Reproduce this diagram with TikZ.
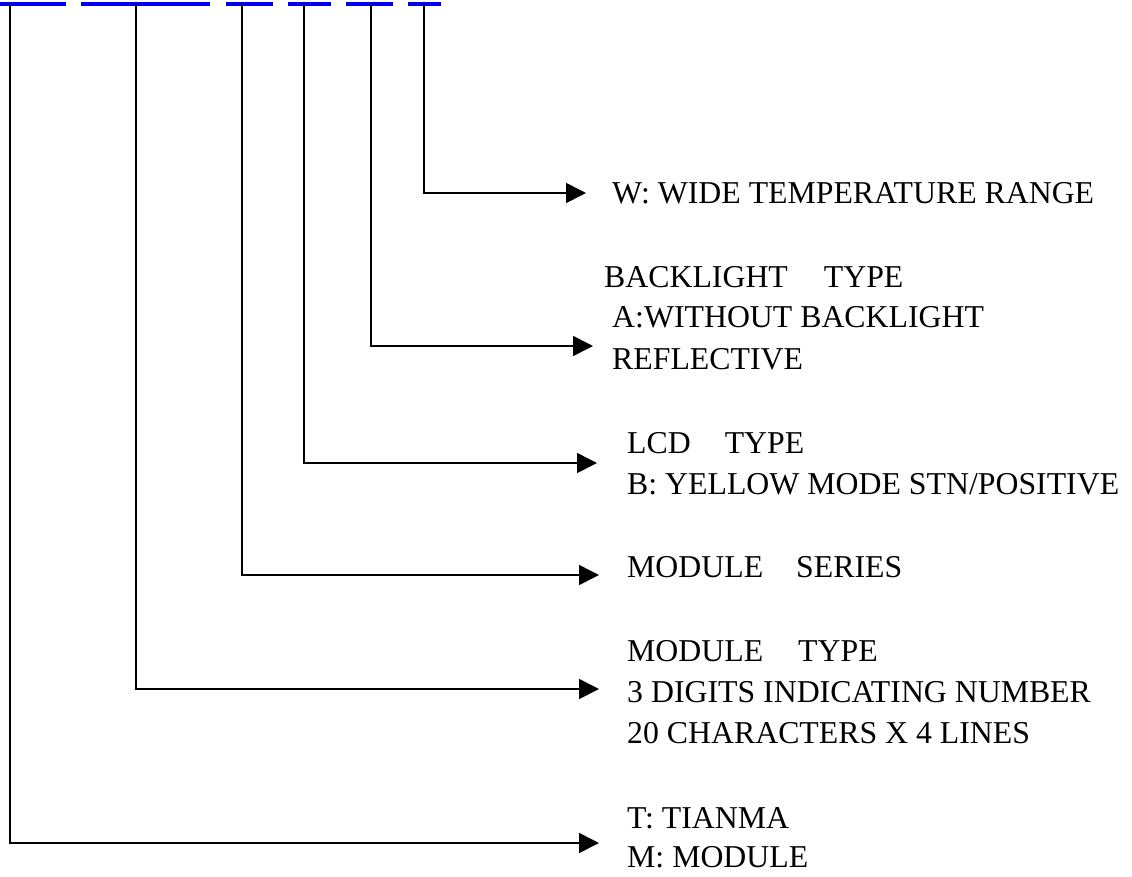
\documentclass[tikz,border=0pt]{standalone}
\usepackage{fontspec}
\setmainfont{Liberation Serif}
\usetikzlibrary{arrows.meta}
\begin{document}
\begin{tikzpicture}[x=1pt,y=-1pt,
  bar/.style={fill={rgb,255:red,0;green,0;blue,240}},
  lead/.style={line width=1.6pt,-{Triangle[length=20pt,width=20pt]}},
  lbl/.style={anchor=base west,inner sep=0pt,font=\fontsize{31.8}{41}\selectfont}]
\useasboundingbox (0,0) rectangle (1132,876);
% blue bars
\fill[bar] (0,2) rectangle (66,6);
\fill[bar] (81,2) rectangle (210,6);
\fill[bar] (226,2) rectangle (273,6);
\fill[bar] (288,2) rectangle (331,6);
\fill[bar] (346,2) rectangle (393,6);
\fill[bar] (408,2) rectangle (441,6);
% start points
\coordinate (s1) at (10,4);
\coordinate (s2) at (136,4);
\coordinate (s3) at (242,4);
\coordinate (s4) at (304,4);
\coordinate (s5) at (371,4);
\coordinate (s6) at (424,4);
% arrow tips
\coordinate (t6) at (586,193);
\coordinate (t5) at (593,346);
\coordinate (t4) at (597,463);
\coordinate (t3) at (599,575);
\coordinate (t2) at (599,689);
\coordinate (t1) at (599,843);
% connectors
\draw[lead] (s6) |- (t6);
\draw[lead] (s5) |- (t5);
\draw[lead] (s4) |- (t4);
\draw[lead] (s3) |- (t3);
\draw[lead] (s2) |- (t2);
\draw[lead] (s1) |- (t1);
% labels
\node[lbl] (w) at (612,203) {W: WIDE TEMPERATURE RANGE};
\node[lbl] (b1) at (604,287) {BACKLIGHT\hspace{36pt}TYPE};
\node[lbl] (b2) at (612,327) {A:WITHOUT BACKLIGHT};
\node[lbl] (b3) at (612,369) {REFLECTIVE};
\node[lbl] (l1) at (627,453) {LCD\hspace{34pt}TYPE};
\node[lbl] (l2) at (627,494) {B: YELLOW MODE STN/POSITIVE};
\node[lbl] (m1) at (627,577) {MODULE\hspace{33pt}SERIES};
\node[lbl] (mt1) at (627,661) {MODULE\hspace{35pt}TYPE};
\node[lbl] (mt2) at (627,702) {3 DIGITS INDICATING NUMBER};
\node[lbl] (mt3) at (627,743) {20 CHARACTERS X 4 LINES};
\node[lbl] (tm1) at (627,828) {T: TIANMA};
\node[lbl] (tm2) at (627,867) {M: MODULE};
\end{tikzpicture}
\end{document}
